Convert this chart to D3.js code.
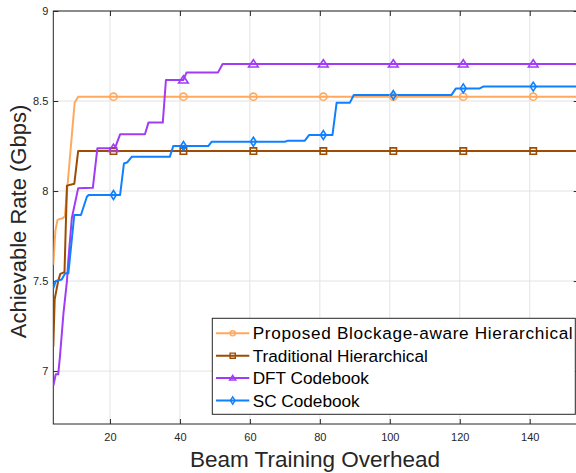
<!DOCTYPE html>
<html>
<head>
<meta charset="utf-8">
<script src="https://cdn.jsdelivr.net/npm/d3@7"></script>
<style>
  html, body { margin: 0; padding: 0; background: #fff; }
  svg { display: block; font-family: "Liberation Sans", Arial, sans-serif; }
</style>
</head>
<body>
<svg id="chart" width="576" height="473"></svg>
<script>
// Beam training overhead vs achievable rate, breakpoints

const xTicks = [20, 40, 60, 80, 100, 120, 140];
const yTicks = [7, 7.5, 8, 8.5, 9];
const markerT = [21, 41, 61, 81, 101, 121, 141];

const proposedT = [3.8, 4.4, 5.0, 6.6, 7.1, 9.9, 10.9, 154];
const proposedV = [7.59, 7.78, 7.84, 7.85, 7.86, 8.49, 8.524, 8.524];

const traditionalT = [3.8, 4.2, 5.2, 5.8, 7.0, 7.7, 9.8, 10.9, 154];
const traditionalV = [7.135, 7.40, 7.50, 7.54, 7.55, 8.03, 8.04, 8.222, 8.222];

const dftT = [3.8, 4.5, 5.2, 5.7, 6.7, 7.7, 8.1, 9.1, 10.9, 15.1, 16.4, 21.4, 22.9, 30.0, 31.0, 35.1, 36.0,
              41.0, 41.9, 50.9, 52.2, 154];
const dftV = [6.917, 6.982, 6.982, 7.08, 7.32, 7.5, 7.617, 7.85, 8.015, 8.018, 8.237, 8.237, 8.315, 8.315, 8.38, 8.38, 8.617,
              8.617, 8.659, 8.659, 8.706, 8.706];

const scT = [3.8, 4.5, 6.2, 7.2, 8.1, 9.8, 11.7, 13.4, 13.9, 22.9, 24.0, 25.0, 26.2, 37.1, 38.1, 48.1, 49.1,
             70.0, 70.9, 75.7, 76.9, 83.6, 84.8, 88.6, 89.7, 117.6, 118.9, 125.7, 126.7, 154];
const scV = [7.459, 7.50, 7.509, 7.543, 7.543, 7.867, 7.867, 7.968, 7.978, 7.978, 8.153, 8.16, 8.19, 8.19, 8.25, 8.25, 8.274,
             8.274, 8.28, 8.28, 8.311, 8.311, 8.491, 8.491, 8.533, 8.533, 8.57, 8.57, 8.58, 8.58];

const seriesNames = ['Proposed Blockage-aware Hierarchical', 'Traditional Hierarchical', 'DFT Codebook', 'SC Codebook'];
const seriesColors = ['#ffa95e', '#9c4d03', '#a13cf5', '#0f80ff'];
const seriesMarkers = ['circle', 'square', 'triangle', 'diamond'];

const series = [
    { t: proposedT, v: proposedV },
    { t: traditionalT, v: traditionalV },
    { t: dftT, v: dftV },
    { t: scT, v: scV }
].map((s, i) => ({
    name: seriesNames[i],
    color: seriesColors[i],
    marker: seriesMarkers[i],
    points: s.t.map((t, j) => ({ t: t, v: s.v[j] }))
}));

const svg = d3.select('#chart');
const plot = { left: 53.3, top: 11, right: 578.7, bottom: 424 };

const x = d3.scaleLinear().domain([3.8, 154]).range([plot.left, plot.right]);
const y = d3.scaleLinear().domain([6.706, 9]).range([plot.bottom, plot.top]);

const textColor = '#262626';

svg.append('defs').append('clipPath').attr('id', 'clip')
    .append('rect')
    .attr('x', plot.left).attr('y', plot.top)
    .attr('width', plot.right - plot.left).attr('height', plot.bottom - plot.top);

// grid
const grid = svg.append('g').attr('class', 'grid')
    .attr('stroke', '#e3e3e3').attr('stroke-width', 1);
grid.selectAll('.gx').data(xTicks).enter().append('line')
    .attr('x1', d => x(d)).attr('x2', d => x(d))
    .attr('y1', plot.top).attr('y2', plot.bottom);
grid.selectAll('.gy').data(yTicks).enter().append('line')
    .attr('x1', plot.left).attr('x2', plot.right)
    .attr('y1', d => y(d)).attr('y2', d => y(d));

// axes (ticks pointing inward like MATLAB)
const styleAxis = g => {
    g.select('.domain').remove();
    g.selectAll('.tick line').attr('stroke', textColor);
    g.selectAll('.tick text').attr('fill', textColor).attr('font-size', 11)
        .attr('font-family', '"Liberation Sans", Arial, sans-serif');
};

svg.append('g').attr('transform', `translate(0,${plot.bottom})`)
    .call(d3.axisBottom(x).tickValues(xTicks).tickSize(-5).tickPadding(9.5))
    .call(styleAxis);
svg.append('g').attr('transform', `translate(0,${plot.top})`)
    .call(d3.axisTop(x).tickValues(xTicks).tickSize(-5).tickFormat(''))
    .call(styleAxis);
svg.append('g').attr('transform', `translate(${plot.left},0)`)
    .call(d3.axisLeft(y).tickValues(yTicks).tickSize(-5).tickPadding(5).tickFormat(d3.format('')))
    .call(styleAxis);
svg.append('g').attr('transform', `translate(${plot.right},0)`)
    .call(d3.axisRight(y).tickValues(yTicks).tickSize(-5).tickFormat(''))
    .call(styleAxis);

svg.append('rect')
    .attr('x', plot.left).attr('y', plot.top)
    .attr('width', plot.right - plot.left).attr('height', plot.bottom - plot.top)
    .attr('fill', 'none').attr('stroke', textColor).attr('stroke-width', 1);

// lines
const line = d3.line().x(d => x(d.t)).y(d => y(d.v));
const lines = svg.append('g').attr('clip-path', 'url(#clip)');
lines.selectAll('path').data(series).enter().append('path')
    .attr('d', d => line(d.points))
    .attr('fill', 'none')
    .attr('stroke', d => d.color)
    .attr('stroke-width', 2)
    .attr('stroke-linejoin', 'round');

// marker shapes, size = half width
function markerPath(type, s) {
    const p = d3.path();
    if (type === 'circle') {
        p.moveTo(s, 0); p.arc(0, 0, s, 0, 2 * Math.PI);
    } else if (type === 'square') {
        p.rect(-s, -s, 2 * s, 2 * s);
    } else if (type === 'triangle') {
        p.moveTo(0, -s * 1.05); p.lineTo(s * 1.2, s * 0.75); p.lineTo(-s * 1.2, s * 0.75); p.closePath();
    } else {
        p.moveTo(0, -s * 1.4); p.lineTo(s * 0.9, 0); p.lineTo(0, s * 1.4); p.lineTo(-s * 0.9, 0); p.closePath();
    }
    return p.toString();
}

// value of a series at t (on its drawn polyline)
function valueAt(points, t) {
    const i = d3.bisector(d => d.t).left(points, t);
    if (i <= 0) return points[0].v;
    if (i >= points.length) return points[points.length - 1].v;
    const a = points[i - 1], b = points[i];
    return a.v + (b.v - a.v) * (t - a.t) / (b.t - a.t);
}

const markerSize = { circle: 3.6, square: 3.2, triangle: 4, diamond: 3.2 };

series.forEach(s => {
    svg.append('g').selectAll('path')
        .data(markerT).enter().append('path')
        .attr('transform', t => `translate(${x(t)},${y(valueAt(s.points, t))})`)
        .attr('d', markerPath(s.marker, markerSize[s.marker]))
        .attr('fill', 'none')
        .attr('stroke', s.color)
        .attr('stroke-width', 1.6);
});

// axis labels
svg.append('text')
    .attr('x', (plot.left + plot.right) / 2 - 1)
    .attr('y', 466.5)
    .attr('text-anchor', 'middle')
    .attr('font-size', 22.5)
    .attr('fill', textColor)
    .text('Beam Training Overhead');

svg.append('text')
    .attr('transform', `translate(26,${(plot.top + plot.bottom) / 2 + 4}) rotate(-90)`)
    .attr('text-anchor', 'middle')
    .attr('font-size', 22)
    .attr('fill', textColor)
    .text('Achievable Rate (Gbps)');

// legend
const legend = svg.append('g').attr('transform', 'translate(212.3,318.3)');
legend.append('rect')
    .attr('width', 363).attr('height', 96)
    .attr('fill', '#fff').attr('stroke', textColor).attr('stroke-width', 1);

const rows = legend.selectAll('.row').data(series).enter().append('g')
    .attr('transform', (d, i) => `translate(0,${15 + i * 22.4})`);
rows.append('line')
    .attr('x1', 3.7).attr('x2', 37)
    .attr('stroke', d => d.color).attr('stroke-width', 2);
rows.append('path')
    .attr('transform', 'translate(20.4,0)')
    .attr('d', d => markerPath(d.marker, 2.6))
    .attr('fill', 'none')
    .attr('stroke', d => d.color)
    .attr('stroke-width', 1.4);
rows.append('text')
    .attr('x', 40.4)
    .attr('dy', '0.35em')
    .attr('font-size', 17.2)
    .attr('textLength', d => d === series[0] ? 320 : null)
    .attr('fill', '#000')
    .text(d => d.name);
</script>
</body>
</html>
